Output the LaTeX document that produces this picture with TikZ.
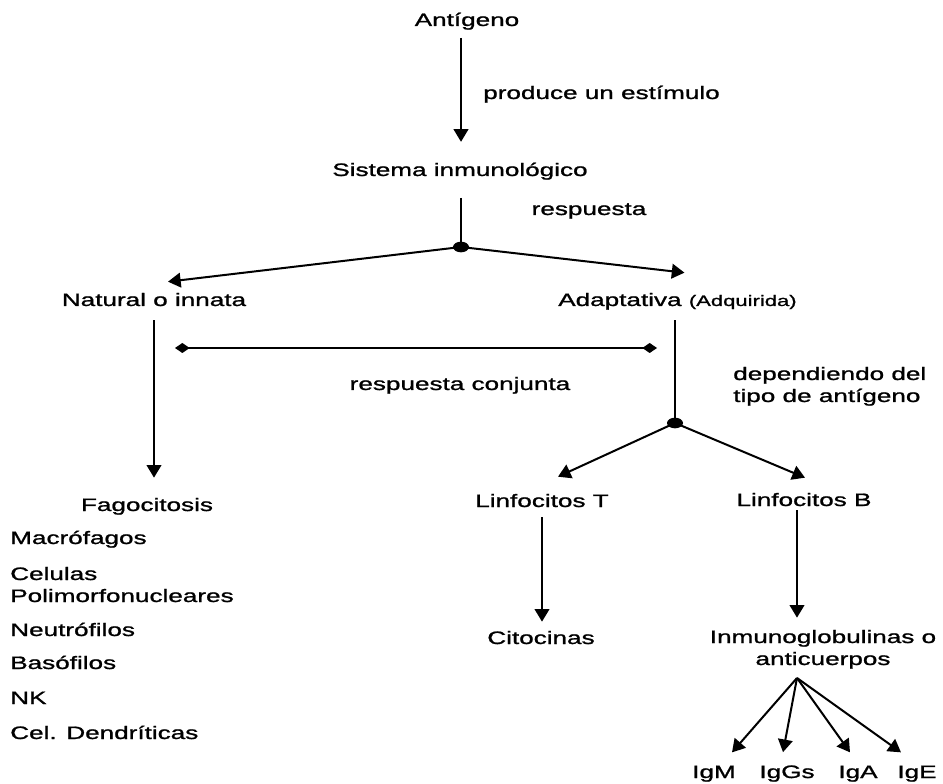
\documentclass[tikz,border=0pt]{standalone}
\usepackage{fontspec}
\setmainfont{Liberation Sans}[FakeStretch=1.45,FakeBold=1.2]
\usetikzlibrary{arrows.meta,calc}
\begin{document}
\begin{tikzpicture}[x=0.75pt,y=-0.75pt,
  txt/.style={inner sep=0pt, anchor=base, font=\fontsize{13.5}{16.5}\selectfont},
  txtw/.style={txt, anchor=base west},
  ln/.style={line width=1.5pt},
  arr/.style={ln, -{Triangle[length=9.5pt,width=11pt]}},
  dm/.style={ln, {Diamond[length=11pt,width=7.5pt]}-{Diamond[length=11pt,width=7.5pt]}},
  dot/.style={fill=black}]
\useasboundingbox (0,0) rectangle (943,784);

% nodes (multi-line nodes: base = baseline of last line)
\node[txt] (ant) at (467,26) {Antígeno};
\node[txtw] (lab1) at (483,99) {produce un estímulo};
\node[txt] (sis) at (460,176) {Sistema inmunológico};
\node[txt] (resp) at (589,215) {respuesta};
\node[txt] (nat) at (154,306) {Natural o innata};
\node[txtw] (adp) at (558,306) {Adaptativa {\fontsize{11.4}{13}\selectfont (Adquirida)}};
\node[txt] (conj) at (460,390) {respuesta conjunta};
\node[txtw, align=left] (dep) at (733,402) {dependiendo del\\tipo de antígeno};
\node[txt] (fag) at (147,511) {Fagocitosis};
\node[txt] (lt) at (542,507) {Linfocitos T};
\node[txt] (lb) at (804,506) {Linfocitos B};
\node[txt] (cit) at (541,644) {Citocinas};
\node[txt, align=center] (inm) at (823,665) {Inmunoglobulinas o\\anticuerpos};

\node[txtw] (mac) at (10,544) {Macrófagos};
\node[txtw, align=left] (cel) at (10,602) {Celulas\\Polimorfonucleares};
\node[txtw] (neu) at (10,636) {Neutrófilos};
\node[txtw] (bas) at (10,669) {Basófilos};
\node[txtw] (nk) at (10,704) {NK};
\node[txtw] (den) at (10,739) {Cel. Dendríticas};

\node[txt] (igm) at (714,778) {IgM};
\node[txt] (igg) at (787,778) {IgGs};
\node[txt] (iga) at (858,778) {IgA};
\node[txt] (ige) at (917,778) {IgE};

% junctions
\coordinate (j1) at (461,247);
\coordinate (j2) at (675,423);
\coordinate (d1) at (175,348);
\coordinate (d2) at (657,348);
\coordinate (src) at ($(inm.south)+(-26,9)$);

% connectors
\draw[arr, shorten <=6pt, shorten >=15.5pt] (ant.south -| j1) -- (sis.north -| j1);
\draw[ln, shorten <=13.5pt] (sis.south -| j1) -- (j1);
\draw[arr] (j1) -- ($(nat.north)+(14,-11)$);
\draw[arr] (j1) -- ($(adp.north)+(7,-20)$);
\fill[dot] (j1) ellipse [x radius=6pt, y radius=4pt];

\draw[arr, shorten <=10.5pt, shorten >=15pt] (nat.south) -- (nat.south |- fag.north);
\draw[dm] (d1) -- (d2);

\draw[ln, shorten <=7.5pt] (adp.south -| j2) -- (j2);
\draw[arr] (j2) -- ($(lt.north)+(16,-17)$);
\draw[arr] (j2) -- ($(lb.north)+(1,-15)$);
\fill[dot] (j2) ellipse [x radius=6pt, y radius=4pt];

\draw[arr, shorten <=7.5pt, shorten >=6.75pt] (lt.south) -- (lt.south |- cit.north);
\draw[arr] ($(lb.south)+(-7,4)$) -- ($(lb.south |- inm.north)+(-7,-12)$);

\draw[arr] (src) -- ($(igm.north)+(18,-13)$);
\draw[arr] (src) -- ($(igg.north)+(-4,-13)$);
\draw[arr] (src) -- ($(iga.north)+(-8,-13)$);
\draw[arr] (src) -- ($(ige.north)+(-16,-13)$);
\end{tikzpicture}
\end{document}
